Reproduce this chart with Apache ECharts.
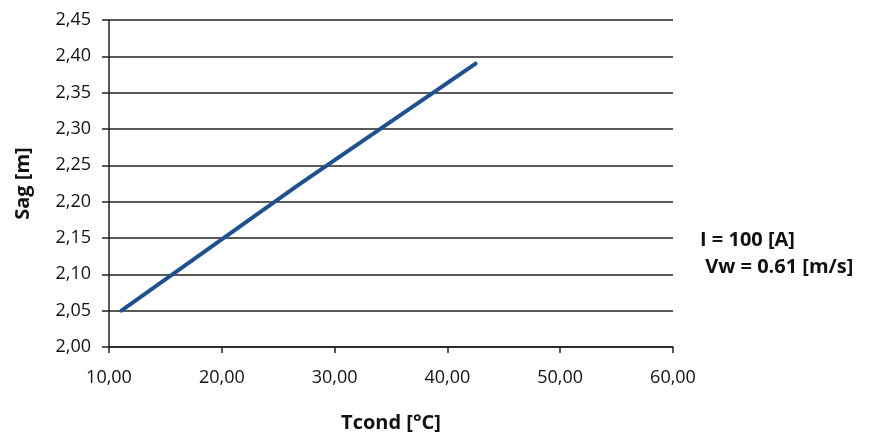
<!DOCTYPE html>
<html>
<head>
<meta charset="utf-8">
<script src="https://cdn.jsdelivr.net/npm/echarts@6/dist/echarts.min.js"></script>
<style>
  html, body { margin: 0; padding: 0; background: #fff; }
  #chart { width: 870px; height: 439px; }
</style>
</head>
<body>
<div id="chart"></div>
<script>
// data
const tcond = [11.1, 26.8, 42.5]
const sag = [2.05, 2.223, 2.39]
const noteLines = ['I = 100 [A]', ' Vw = 0.61 [m/s]']

const fontFamily = '"Open Sans", sans-serif'

// comma decimals like the original
function fmt(v) {
  return v.toFixed(2).replace('.', ',')
}

const chart = echarts.init(document.getElementById('chart'))

const option = {
  animation: false,
  textStyle: { fontFamily },
  grid: { left: 109, right: 197, top: 20, bottom: 92 },
  xAxis: {
    type: 'value',
    min: 10,
    max: 60,
    interval: 10,
    name: 'Tcond [°C]',
    nameLocation: 'middle',
    nameGap: 66,
    nameTextStyle: { fontSize: 20, fontWeight: 'bold', color: '#111', fontFamily },
    axisLine: { show: true, lineStyle: { color: '#222', width: 1.5 } },
    axisTick: { show: true, length: 6, lineStyle: { color: '#222', width: 1.5 } },
    axisLabel: { margin: 22, fontSize: 18, color: '#111', formatter: fmt },
    splitLine: { show: false }
  },
  yAxis: {
    type: 'value',
    min: 2.0,
    max: 2.45,
    interval: 0.05,
    name: 'Sag [m]',
    nameLocation: 'middle',
    nameGap: 76,
    nameTextStyle: { fontSize: 20, fontWeight: 'bold', color: '#111', fontFamily },
    axisLine: { show: true, lineStyle: { color: '#222', width: 1.5 } },
    axisTick: { show: true, length: 7, lineStyle: { color: '#222', width: 1.5 } },
    axisLabel: { margin: 18, fontSize: 18, color: '#111', formatter: fmt },
    splitLine: { show: true, lineStyle: { color: '#222', width: 1.5 } }
  },
  graphic: [
    {
      type: 'text',
      left: 700,
      top: 230,
      style: { text: noteLines[0], fontSize: 20, fontWeight: 'bold', fill: '#111', fontFamily }
    },
    {
      type: 'text',
      left: 700,
      top: 257,
      style: { text: noteLines[1], fontSize: 20, fontWeight: 'bold', fill: '#111', fontFamily }
    }
  ],
  series: [
    {
      type: 'line',
      data: tcond.map((t, i) => [t, sag[i]]),
      showSymbol: false,
      lineStyle: { color: '#1d5191', width: 4, cap: 'round', join: 'round' },
      itemStyle: { color: '#1d5191' }
    }
  ]
}

chart.setOption(option)
</script>
</body>
</html>
